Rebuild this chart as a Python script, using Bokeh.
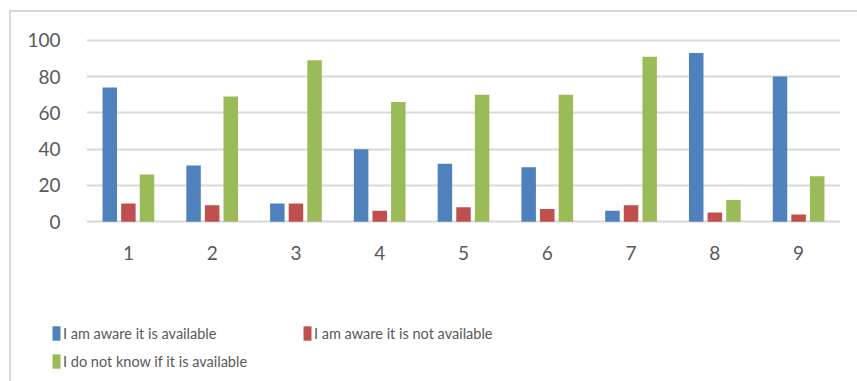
from bokeh.plotting import figure
from bokeh.layouts import column
from bokeh.models import (ColumnDataSource, FactorRange, Range1d, FixedTicker,
                          Legend, LegendItem)
from bokeh.transform import dodge
from bokeh.embed import file_html
from bokeh.resources import INLINE

# Survey answers per question (percent of respondents)
questions = ["1", "2", "3", "4", "5", "6", "7", "8", "9"]
aware_available = [74, 31, 10, 40, 32, 30, 6, 93, 80]
aware_not_available = [10, 9, 10, 6, 8, 7, 9, 5, 4]
do_not_know = [26, 69, 89, 66, 70, 70, 91, 12, 25]
y_ticks = [0, 20, 40, 60, 80, 100]

series_names = [
    "I am aware it is available",
    "I am aware it is not available",
    "I do not know if it is available",
]
series_cols = ["aware", "not_avail", "unknown"]
colors = ["#4F81BD", "#C0504D", "#9BBB59"]
text_color = "#595959"
grid_color = "#D9D9D9"
font = "Lato"

source = ColumnDataSource(dict(
    q=questions,
    aware=aware_available,
    not_avail=aware_not_available,
    unknown=do_not_know,
))

p = figure(
    width=846, height=288,
    x_range=FactorRange(*questions),
    y_range=Range1d(-1, 101),
    output_backend="svg",
    toolbar_location=None,
    min_border_left=75, min_border_right=17,
    min_border_top=26, min_border_bottom=77,
)
p.outline_line_color = None
p.background_fill_color = "white"
p.border_fill_color = "white"

step = 0.222
bar_w = 0.173
offsets = [-step, 0, step]
for col, off, c in zip(series_cols, offsets, colors):
    p.vbar(x=dodge("q", off, range=p.x_range), top=col, width=bar_w,
           source=source, fill_color=c, line_color=None)

# axes
p.yaxis.ticker = FixedTicker(ticks=y_ticks)
for ax in (p.xaxis[0], p.yaxis[0]):
    ax.axis_line_color = None
    ax.major_tick_line_color = None
    ax.minor_tick_line_color = None
    ax.major_label_text_color = text_color
    ax.major_label_text_font = font
    ax.major_label_text_font_size = "19px"
p.yaxis.major_label_standoff = 20
p.xaxis.major_label_standoff = 16

p.xgrid.grid_line_color = None
p.ygrid.grid_line_color = grid_color
p.ygrid.grid_line_width = 2

# legend strip under the chart, two columns
lf = figure(width=846, height=81, x_range=FactorRange(*questions),
            y_range=Range1d(0, 1), output_backend="svg", toolbar_location=None,
            x_axis_location=None, y_axis_location=None,
            min_border=0, outline_line_color=None)
lf.frame_align = False
lf.grid.visible = False
# hidden copies of the series, used only for the legend swatches
swatches = [lf.vbar(x="q", top=col, width=bar_w, source=source,
                    fill_color=c, line_color=None, visible=False)
            for col, c in zip(series_cols, colors)]

def add_legend(items, loc):
    lf.add_layout(Legend(
        items=items, location=loc, orientation="vertical",
        glyph_width=10, glyph_height=18, label_standoff=2,
        label_text_font=font, label_text_font_size="14.5px",
        label_text_color=text_color, label_height=20, spacing=8,
        padding=0, margin=0, border_line_color=None,
        background_fill_alpha=0, inactive_fill_alpha=0,
        click_policy="none",
    ), "center")

add_legend([LegendItem(label=series_names[0], renderers=[swatches[0]]),
            LegendItem(label=series_names[2], renderers=[swatches[2]])], (40, 10))
add_legend([LegendItem(label=series_names[1], renderers=[swatches[1]])], (291, 38))

layout = column(p, lf, spacing=0, margin=(10, 0, 0, 9),
                styles={"border-top": "2px solid #D9D9D9",
                        "border-left": "2px solid #D9D9D9"})

open("out.html", "w").write(file_html(layout, INLINE))
